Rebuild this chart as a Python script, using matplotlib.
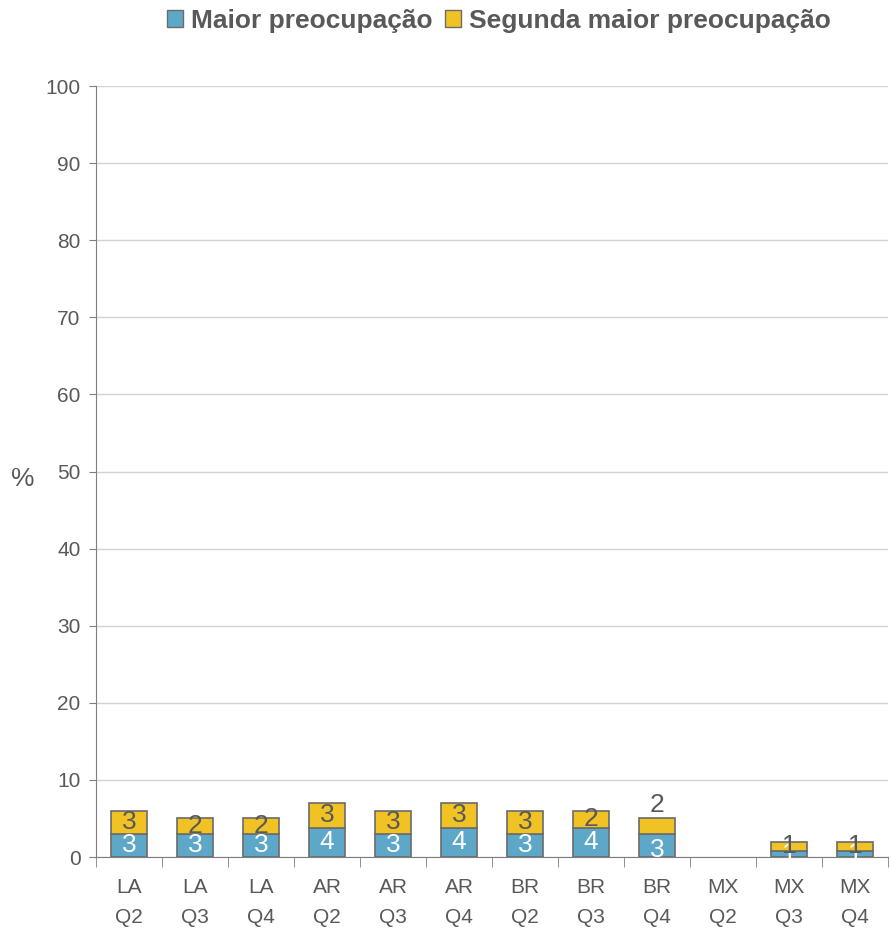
import matplotlib
matplotlib.use("Agg")
import matplotlib.pyplot as plt
import numpy as np
from matplotlib.patches import Patch

plt.rcParams['font.family'] = ['Liberation Sans', 'DejaVu Sans']

categories = ["LA\nQ2", "LA\nQ3", "LA\nQ4", "AR\nQ2", "AR\nQ3", "AR\nQ4",
              "BR\nQ2", "BR\nQ3", "BR\nQ4", "MX\nQ2", "MX\nQ3", "MX\nQ4"]
maior = [3.0, 3.0, 3.0, 3.8, 3.0, 3.8, 3.0, 3.8, 3.0, 0.0, 0.8, 0.8]
segunda = [3.0, 2.0, 2.0, 3.2, 3.0, 3.2, 3.0, 2.2, 2.0, 0.0, 1.2, 1.2]
maior_labels = ["3", "3", "3", "4", "3", "4", "3", "4", "3", "", "1", "1"]
segunda_labels = ["3", "2", "2", "3", "3", "3", "3", "2", "2", "", "1", "1"]

blue = "#5da8c9"
yellow = "#f0c224"
edge = "#6b6b6b"
gray = "#595959"

fig = plt.figure(figsize=(8.91, 9.30), dpi=100)
ax = fig.add_axes([96/891, 1-857/930, (888-96)/891, (857-86)/930])

x = np.arange(len(categories))
w = 0.55
for i in range(len(x)):
    if maior[i] + segunda[i] == 0:
        continue
    ax.bar(x[i], maior[i], w, color=blue, edgecolor=edge, linewidth=1.2, zorder=3)
    ax.bar(x[i], segunda[i], w, bottom=maior[i], color=yellow, edgecolor=edge,
           linewidth=1.2, zorder=3)

for i in range(len(x)):
    if maior_labels[i]:
        yb = maior[i] / 2
        if i == 8:
            yb = maior[i] / 2 - 0.6
        ax.text(x[i], yb, maior_labels[i], ha='center', va='center',
                color='white', fontsize=19, zorder=4)
    if segunda_labels[i]:
        ys = maior[i] + segunda[i] / 2
        if i == 8:
            ys = maior[i] + segunda[i] + 1.7
        ax.text(x[i], ys, segunda_labels[i], ha='center', va='center',
                color=gray, fontsize=19, zorder=4)

ax.set_xlim(-0.5, len(x) - 0.5)
ax.set_ylim(0, 100)
ax.set_yticks(np.arange(0, 101, 10))
ax.yaxis.grid(True, color="#d4d4d4", linewidth=1, zorder=0)
ax.set_axisbelow(True)
for s in ['top', 'right']:
    ax.spines[s].set_visible(False)
ax.spines['left'].set_color("#7f7f7f")
ax.spines['bottom'].set_color("#7f7f7f")
ax.tick_params(axis='y', colors="#7f7f7f", labelcolor=gray, labelsize=15, length=5, pad=6)

ax.set_xticks(x)
ax.set_xticklabels(categories, fontsize=15, color=gray, linespacing=1.75)
ax.tick_params(axis='x', length=0, pad=15)
ax.set_xticks(np.arange(-0.5, len(x), 1), minor=True)
ax.tick_params(axis='x', which='minor', length=7, color="#7f7f7f")

ax.set_ylabel("%", fontsize=19, color=gray, rotation=0, va='center')
ax.yaxis.set_label_coords(-0.093, 0.49)

handles = [Patch(facecolor=blue, edgecolor=edge, label="Maior preocupação"),
           Patch(facecolor=yellow, edgecolor=edge, label="Segunda maior preocupação")]
leg = fig.legend(handles=handles, loc='center', bbox_to_anchor=(499/891, 1-21/930),
                 ncol=2, frameon=False, handlelength=0.6, handleheight=0.6,
                 handletextpad=0.3, columnspacing=0.5,
                 prop={'weight': 'bold', 'size': 19})
for t in leg.get_texts():
    t.set_color(gray)

fig.savefig("out.png", dpi=100)
